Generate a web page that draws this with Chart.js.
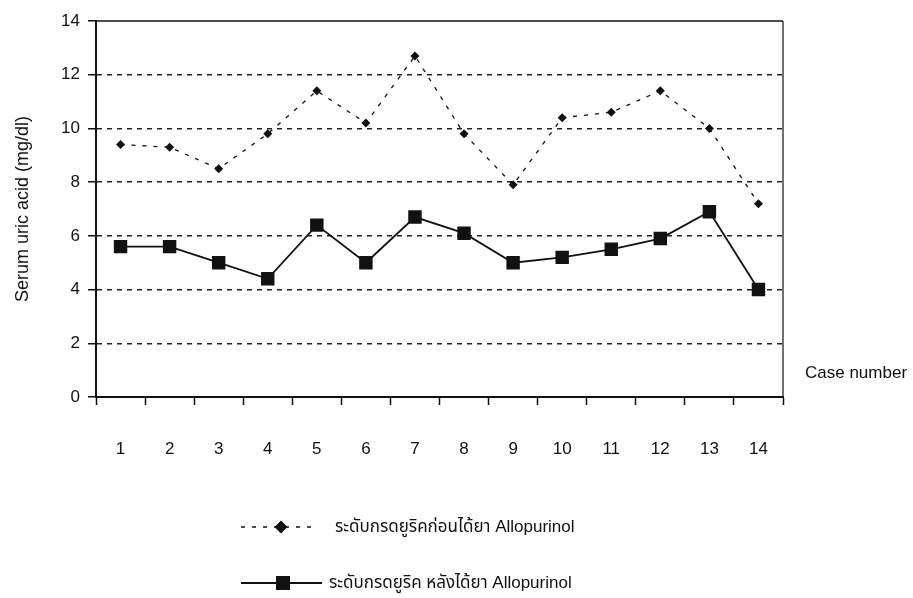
<!DOCTYPE html>
<html>
<head>
<meta charset="utf-8">
<script src="https://cdn.jsdelivr.net/npm/chart.js@4/dist/chart.umd.min.js"></script>
<style>
  html, body { margin: 0; padding: 0; background: #ffffff; }
  #wrap { width: 913px; height: 598px; }
</style>
</head>
<body>
<div id="wrap"><canvas id="uricChart" width="913" height="598"></canvas></div>
<script>
// Serum uric acid per case, before and after Allopurinol
const caseNumbers = ['1', '2', '3', '4', '5', '6', '7', '8', '9', '10', '11', '12', '13', '14'];
const beforeLevels = [9.4, 9.3, 8.5, 9.8, 11.4, 10.2, 12.7, 9.8, 7.9, 10.4, 10.6, 11.4, 10.0, 7.2];
const afterLevels = [5.6, 5.6, 5.0, 4.4, 6.4, 5.0, 6.7, 6.1, 5.0, 5.2, 5.5, 5.9, 6.9, 4.0];
const yTickValues = [0, 2, 4, 6, 8, 10, 12, 14];

const seriesLabels = ['ระดับกรดยูริคก่อนได้ยา Allopurinol', 'ระดับกรดยูริค หลังได้ยา Allopurinol'];
const yAxisTitle = 'Serum uric acid (mg/dl)';
const xAxisTitle = 'Case number';

const INK = '#111111';
const FONT = '"Liberation Sans", Arial, "Noto Sans", sans-serif';
const LEGEND_FONT = '"Liberation Sans", "Noto Sans Thai", "Noto Sans", sans-serif';

// Box around the plot area (top and right edges; left/bottom are the axes)
const frameLines = {
  id: 'frameLines',
  beforeDatasetsDraw(chart) {
    const { ctx, chartArea: a } = chart;
    ctx.save();
    ctx.strokeStyle = INK;
    ctx.setLineDash([]);
    ctx.lineWidth = 1.6;
    ctx.beginPath();
    ctx.moveTo(a.left, a.top);
    ctx.lineTo(a.right, a.top);
    ctx.stroke();
    ctx.lineWidth = 1.2;
    ctx.beginPath();
    ctx.moveTo(a.right, a.top);
    ctx.lineTo(a.right, a.bottom);
    ctx.stroke();
    ctx.restore();
  }
};

// "Case number" caption to the right of the plot
const sideCaption = {
  id: 'sideCaption',
  afterDraw(chart) {
    const { ctx, chartArea: a } = chart;
    ctx.save();
    ctx.fillStyle = INK;
    ctx.font = '17px ' + FONT;
    ctx.textAlign = 'left';
    ctx.textBaseline = 'middle';
    ctx.fillText(xAxisTitle, a.right + 22, a.bottom - 24);
    ctx.restore();
  }
};

// Two-row legend with line + marker samples under the axis
const stackedLegend = {
  id: 'stackedLegend',
  afterDraw(chart) {
    const { ctx, chartArea: a } = chart;
    const rows = [
      { y: a.bottom + 130, lineStart: 241, lineEnd: 318, markX: 281, textX: 335 },
      { y: a.bottom + 186, lineStart: 241, lineEnd: 322, markX: 283, textX: 329 }
    ];
    chart.data.datasets.forEach((ds, i) => {
      const r = rows[i];
      const y = r.y;
      ctx.save();
      ctx.strokeStyle = ds.borderColor;
      ctx.lineWidth = ds.borderWidth;
      ctx.setLineDash(ds.borderDash || []);
      ctx.beginPath();
      ctx.moveTo(r.lineStart, y);
      ctx.lineTo(r.lineEnd, y);
      ctx.stroke();
      ctx.setLineDash([]);
      ctx.fillStyle = ds.pointBackgroundColor;
      if (ds.pointStyle === 'rectRot') {
        const h = 6.5;
        ctx.beginPath();
        ctx.moveTo(r.markX - h, y);
        ctx.lineTo(r.markX, y - h);
        ctx.lineTo(r.markX + h, y);
        ctx.lineTo(r.markX, y + h);
        ctx.closePath();
        ctx.fill();
      } else {
        const s = 14;
        ctx.fillRect(r.markX - s / 2, y - s / 2, s, s);
      }
      ctx.fillStyle = INK;
      ctx.font = '17px ' + LEGEND_FONT;
      ctx.textAlign = 'left';
      ctx.textBaseline = 'middle';
      ctx.fillText(ds.label, r.textX, y);
      ctx.restore();
    });
  }
};

new Chart(document.getElementById('uricChart'), {
  type: 'line',
  data: {
    labels: caseNumbers,
    datasets: [
      {
        label: seriesLabels[0],
        data: beforeLevels,
        borderColor: INK,
        borderWidth: 1.3,
        borderDash: [4, 7],
        pointStyle: 'rectRot',
        pointRadius: 4.5,
        pointHoverRadius: 4.5,
        pointBorderWidth: 0,
        pointBackgroundColor: INK,
        tension: 0,
        fill: false
      },
      {
        label: seriesLabels[1],
        data: afterLevels,
        borderColor: INK,
        borderWidth: 1.8,
        pointStyle: 'rect',
        pointRadius: 9.5,
        pointHoverRadius: 9.5,
        pointBorderWidth: 0,
        pointBackgroundColor: INK,
        tension: 0,
        fill: false
      }
    ]
  },
  options: {
    responsive: false,
    animation: false,
    events: [],
    layout: { padding: { top: 21, right: 130, left: 0, bottom: 0 } },
    plugins: {
      legend: { display: false },
      tooltip: { enabled: false },
      title: { display: false }
    },
    scales: {
      x: {
        type: 'category',
        offset: true,
        grid: {
          offset: true,
          drawOnChartArea: false,
          drawTicks: true,
          tickLength: 8,
          tickColor: INK,
          tickWidth: 1.5
        },
        border: { display: true, color: INK, width: 2 },
        ticks: {
          color: INK,
          font: { family: FONT, size: 17 },
          padding: 34,
          maxRotation: 0,
          autoSkip: false
        },
        afterFit(scale) { scale.height = 201; }
      },
      y: {
        min: 0,
        max: 14,
        afterBuildTicks(scale) {
          scale.ticks = yTickValues.map(v => ({ value: v }));
        },
        grid: {
          color: ctx => (ctx.tick && (ctx.tick.value === 0 || ctx.tick.value === 14)) ? 'rgba(0,0,0,0)' : '#222222',
          lineWidth: 1.5,
          drawTicks: true,
          tickLength: 8,
          tickColor: INK,
          tickWidth: 1.5
        },
        border: { display: true, color: INK, width: 2, dash: [5, 5] },
        ticks: {
          color: INK,
          font: { family: FONT, size: 17 },
          padding: 8
        },
        title: {
          display: true,
          text: yAxisTitle,
          color: INK,
          font: { family: FONT, size: 18 },
          padding: { top: 12, bottom: 0 }
        },
        afterFit(scale) { scale.width = 96; }
      }
    }
  },
  plugins: [frameLines, sideCaption, stackedLegend]
});
</script>
</body>
</html>
